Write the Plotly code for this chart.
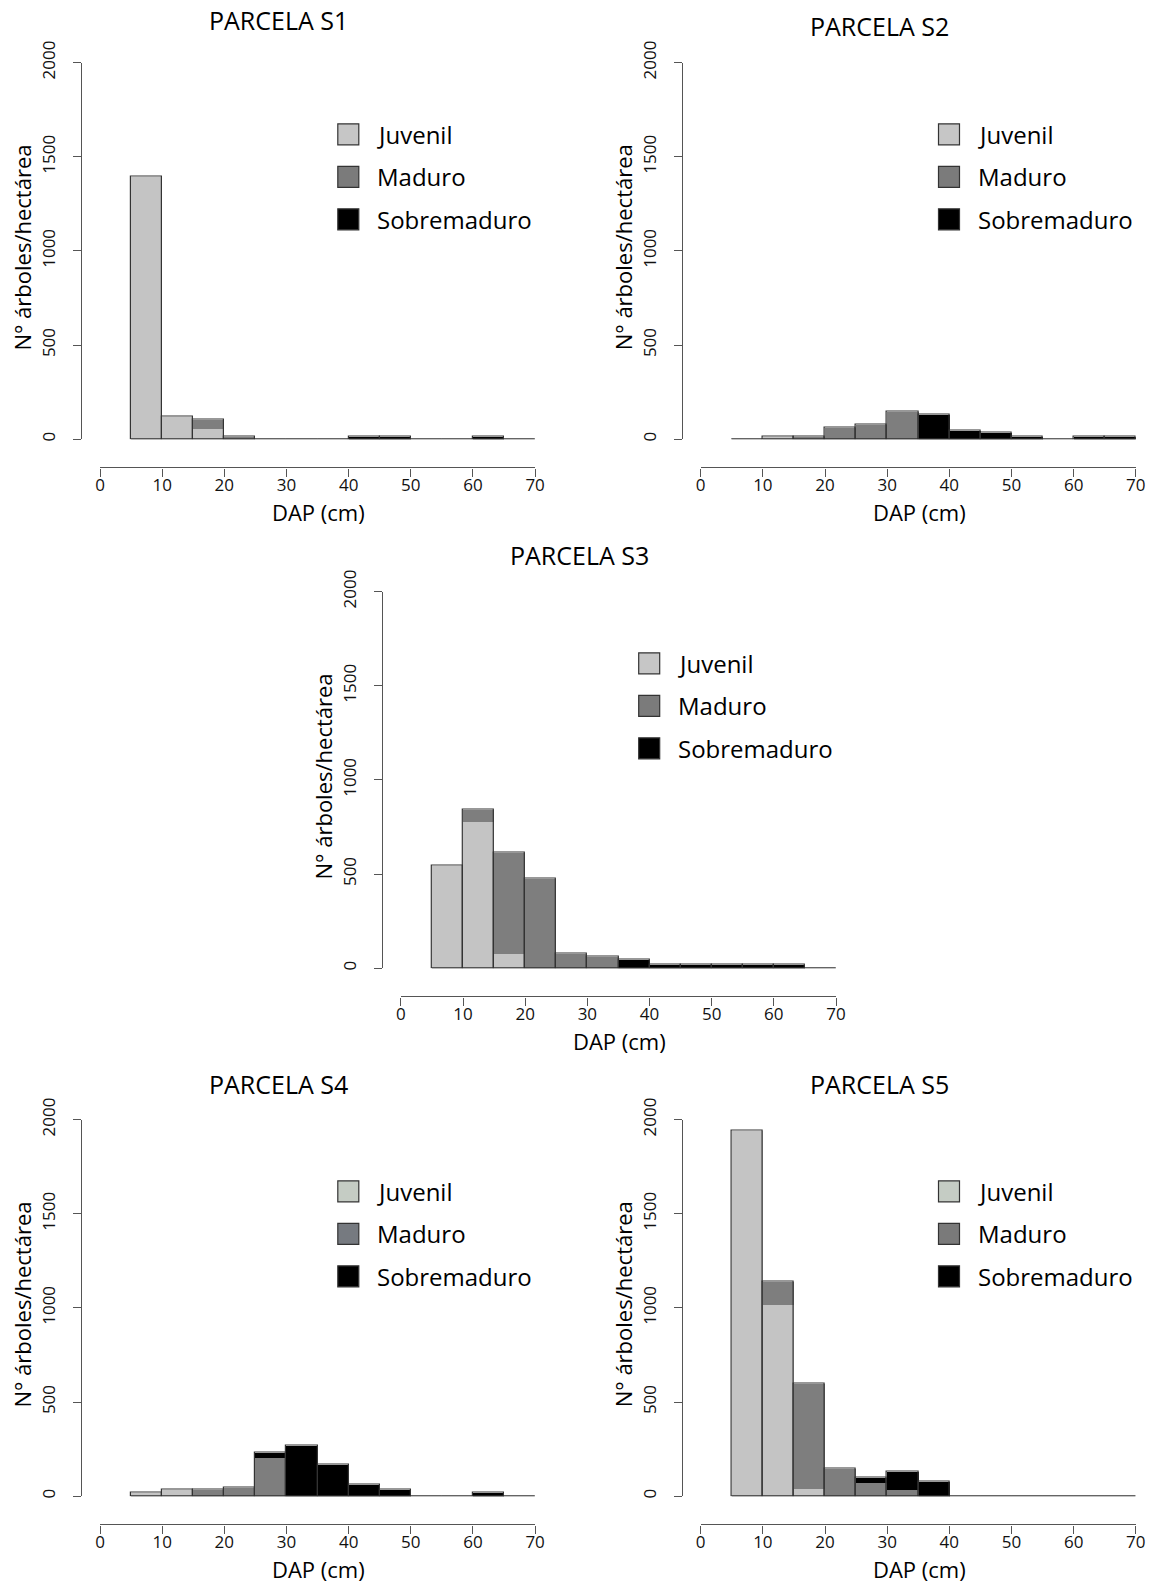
import numpy as np
import plotly.graph_objects as go

# ---------------- data ----------------
bin_edges = list(range(5, 75, 5))          # 5,10,...,70  -> 13 bins of 5 cm
categories = ["Juvenil", "Maduro", "Sobremaduro"]
panel_titles = ["PARCELA S1", "PARCELA S2", "PARCELA S3", "PARCELA S4", "PARCELA S5"]
x_ticks = [0, 10, 20, 30, 40, 50, 60, 70]
y_ticks = [0, 500, 1000, 1500, 2000]

# trees / ha per DAP class (5-10, 10-15, ..., 65-70)
s1_juvenil     = [1395, 120, 55, 0, 0, 0, 0, 0, 0, 0, 0, 0, 0]
s1_maduro      = [0, 0, 47, 16, 0, 0, 0, 0, 0, 0, 0, 0, 0]
s1_sobremaduro = [0, 0, 0, 0, 0, 0, 0, 16, 16, 0, 0, 16, 0]

s2_juvenil     = [0, 16, 0, 0, 0, 0, 0, 0, 0, 0, 0, 0, 0]
s2_maduro      = [0, 0, 16, 62, 80, 147, 0, 0, 0, 0, 0, 0, 0]
s2_sobremaduro = [0, 0, 0, 0, 0, 0, 131, 46, 35, 16, 0, 16, 16]

s3_juvenil     = [545, 780, 80, 0, 0, 0, 0, 0, 0, 0, 0, 0, 0]
s3_maduro      = [0, 62, 535, 476, 76, 60, 0, 0, 0, 0, 0, 0, 0]
s3_sobremaduro = [0, 0, 0, 0, 0, 0, 45, 18, 18, 18, 18, 18, 0]

s4_juvenil     = [18, 35, 0, 0, 0, 0, 0, 0, 0, 0, 0, 0, 0]
s4_maduro      = [0, 0, 33, 46, 205, 0, 0, 0, 0, 0, 0, 0, 0]
s4_sobremaduro = [0, 0, 0, 0, 27, 267, 166, 64, 35, 0, 0, 18, 0]

s5_juvenil     = [1940, 1020, 42, 0, 0, 0, 0, 0, 0, 0, 0, 0, 0]
s5_maduro      = [0, 120, 555, 145, 70, 37, 0, 0, 0, 0, 0, 0, 0]
s5_sobremaduro = [0, 0, 0, 0, 27, 94, 80, 0, 0, 0, 0, 0, 0]

panels_data = [
    (s1_juvenil, s1_maduro, s1_sobremaduro),
    (s2_juvenil, s2_maduro, s2_sobremaduro),
    (s3_juvenil, s3_maduro, s3_sobremaduro),
    (s4_juvenil, s4_maduro, s4_sobremaduro),
    (s5_juvenil, s5_maduro, s5_sobremaduro),
]

# ---------------- styling / layout ----------------
PAGE_MARGIN = 8                     # default <body> margin of the html page
W, H = 1158 - PAGE_MARGIN, 1583 - PAGE_MARGIN
FONT = "Open Sans"
bar_colors = ["#c4c4c4", "#7e7e7e", "#000000"]
legend_colors = [
    ["#c6c6c6", "#7b7b7b", "#000000"],
    ["#c6c6c6", "#7b7b7b", "#000000"],
    ["#c6c6c6", "#7b7b7b", "#000000"],
    ["#c5ccc4", "#767a80", "#000000"],
    ["#c5ccc4", "#7a7a7a", "#000000"],
]
edge_col = "#333333"
axis_col = "#555555"

# panel pixel offsets (dx, dy) and title vertical positions (window pixels)
offsets = [(0, 0), (600.7, 0), (300.9, 529), (0, 1057), (600.7, 1057)]
title_y = [20.2, 26.2, 555.3, 1084.3, 1084.3]

# base geometry of panel 1 (window pixels)
X0_PX, X70_PX = 100.0, 535.1
YAX_PX = 81.0
Y0_PX, Y2000_PX = 439.2, 62.6
XAX_PX = 467.4


def px_x(p):
    return (p - PAGE_MARGIN) / W


def px_y(p):
    return 1 - (p - PAGE_MARGIN) / H


edges = np.array(bin_edges, dtype=float)
centers = (edges[:-1] + edges[1:]) / 2
widths = np.diff(edges)

fig = go.Figure()
annotations = []
shapes = []
layout_axes = {}

for i, (data, (dx, dy)) in enumerate(zip(panels_data, offsets)):
    n = "" if i == 0 else str(i + 1)
    xa, ya = "x" + n, "y" + n
    vals = [np.array(v, dtype=float) for v in data]
    base = np.zeros_like(vals[0])
    for cat, v, col in zip(categories, vals, bar_colors):
        fig.add_trace(go.Bar(
            x=centers, y=v, base=base.copy(), width=widths,
            marker=dict(color=col, line=dict(width=0)),
            name=cat, showlegend=False, xaxis=xa, yaxis=ya, cliponaxis=False,
        ))
        base = base + v
    total = base
    # outline around each whole stack
    fig.add_trace(go.Bar(
        x=centers, y=total, base=np.zeros_like(total), width=widths,
        marker=dict(color="rgba(0,0,0,0)", line=dict(color=edge_col, width=1.2)),
        showlegend=False, xaxis=xa, yaxis=ya, cliponaxis=False, hoverinfo="skip",
    ))
    # baseline of the histogram
    fig.add_trace(go.Scatter(
        x=[edges[0], edges[-1]], y=[0, 0], mode="lines",
        line=dict(color=edge_col, width=1.2), showlegend=False,
        xaxis=xa, yaxis=ya, cliponaxis=False, hoverinfo="skip",
    ))

    layout_axes["xaxis" + n] = dict(
        domain=[px_x(X0_PX + dx), px_x(X70_PX + dx)], range=[0, 70],
        anchor="free", position=px_y(XAX_PX + dy), automargin=False,
        showline=True, linecolor=axis_col, linewidth=1.2,
        ticks="outside", ticklen=8, tickcolor=axis_col, tickwidth=1.2,
        tickvals=x_ticks, ticklabelstandoff=-6,
        showgrid=False, zeroline=False,
        tickfont=dict(family=FONT, size=17, color="#111"),
        fixedrange=True,
    )
    layout_axes["yaxis" + n] = dict(
        domain=[px_y(Y0_PX + dy), px_y(Y2000_PX + dy)], range=[0, 2000],
        anchor="free", position=px_x(YAX_PX + dx), automargin=False,
        showline=True, linecolor=axis_col, linewidth=1.2,
        ticks="outside", ticklen=8, tickcolor=axis_col, tickwidth=1.2,
        tickvals=y_ticks, tickangle=-90, ticklabelstandoff=11,
        showgrid=False, zeroline=False,
        tickfont=dict(family=FONT, size=17, color="#111"),
        fixedrange=True,
    )

    # titles / axis labels
    annotations.append(dict(
        text=panel_titles[i], x=px_x(278.6 + dx), y=px_y(title_y[i]),
        xref="paper", yref="paper", xanchor="center", yanchor="middle",
        showarrow=False, font=dict(family=FONT, size=25, color="#000"),
    ))
    annotations.append(dict(
        text="DAP (cm)", x=px_x(318.5 + dx), y=px_y(511.9 + dy),
        xref="paper", yref="paper", xanchor="center", yanchor="middle",
        showarrow=False, font=dict(family=FONT, size=22, color="#000"),
    ))
    annotations.append(dict(
        text="N° árboles/hectárea", x=px_x(22.2 + dx), y=px_y(247.4 + dy),
        xref="paper", yref="paper", xanchor="center", yanchor="middle",
        textangle=-90, showarrow=False,
        font=dict(family=FONT, size=22, color="#000"),
    ))

    # legend
    for k, (cat, col) in enumerate(zip(categories, legend_colors[i])):
        cy = 134.3 + 42.5 * k + dy
        cx = 348.3 + dx
        shapes.append(dict(
            type="rect", xref="paper", yref="paper",
            x0=px_x(cx - 10.5), x1=px_x(cx + 10.5),
            y0=px_y(cy + 10.5), y1=px_y(cy - 10.5),
            fillcolor=col, line=dict(color=edge_col, width=1.2),
        ))
        annotations.append(dict(
            text=cat, x=px_x(374.8 + dx), y=px_y(cy),
            xref="paper", yref="paper", xanchor="left", yanchor="middle",
            showarrow=False, font=dict(family=FONT, size=24, color="#000"),
        ))

fig.update_layout(
    width=W, height=H, autosize=False,
    margin=dict(l=0, r=0, t=0, b=0, pad=0, autoexpand=False),
    paper_bgcolor="white", plot_bgcolor="white",
    barmode="overlay", bargap=0,
    showlegend=False,
    annotations=annotations, shapes=shapes,
    **layout_axes,
)

fig.write_html("out.html")
